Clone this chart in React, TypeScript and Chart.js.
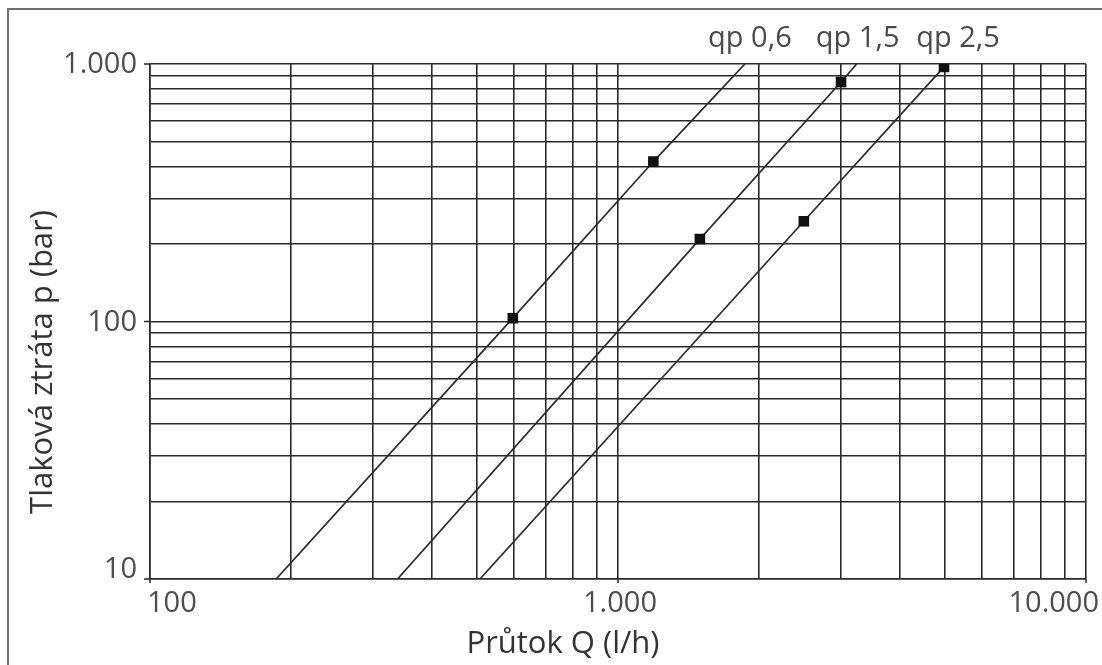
import React, { useEffect, useRef } from "react";
import { Chart, registerables } from "chart.js";

Chart.register(...registerables);

// Grid tick values (log-log)
const xTickValues = [100, 200, 300, 400, 500, 600, 700, 800, 900, 1000, 2000, 3000, 4000, 5000, 6000, 7000, 8000, 9000, 10000];
const yTickValues = [10, 20, 30, 40, 50, 60, 70, 80, 90, 100, 200, 300, 400, 500, 600, 700, 800, 900, 1000];
const xLabelValues = [100, 1000, 10000];
const xLabelTexts = ["100", "1.000", "10.000"];
const yLabelValues = [10, 100, 1000];
const yLabelTexts = ["10", "100", "1.000"];

// Series: flow Q (l/h) vs pressure loss p
const seriesNames = ["qp 0,6", "qp 1,5", "qp 2,5"];
const qp06Q = [186, 596, 1190, 1867];
const qp06P = [10, 103, 418, 1000];
const qp06Marker = [false, true, true, false];
const qp15Q = [338, 1496, 2996, 3236];
const qp15P = [10, 209, 851, 1000];
const qp15Marker = [false, true, true, false];
const qp25Q = [507, 2495, 4973];
const qp25P = [10, 245, 974];
const qp25Marker = [false, true, true];

const xTitle = "Průtok Q (l/h)";
const yTitle = "Tlaková ztráta p (bar)";

const FONT = "'Open Sans', 'DejaVu Sans', sans-serif";
const GRID = "#2a2a2a";

function makeDataset(q: number[], p: number[], marks: boolean[]) {
  return {
    data: q.map((v, i) => ({ x: v, y: p[i] })),
    showLine: true,
    borderColor: "#2a2a2a",
    borderWidth: 1.7,
    pointStyle: "rect",
    pointRadius: marks.map((m) => (m ? 7.5 : 0)),
    pointBackgroundColor: "#111",
    pointBorderColor: "#111",
    pointBorderWidth: 0,
  };
}

const overlayPlugin = {
  id: "overlay",
  afterDraw(chart: any) {
    const ctx = chart.ctx as CanvasRenderingContext2D;
    const xs = chart.scales.x;
    const ys = chart.scales.y;
    const area = chart.chartArea;
    ctx.save();

    // outer frame
    ctx.strokeStyle = "#707070";
    ctx.lineWidth = 2;
    ctx.beginPath();
    ctx.moveTo(8, chart.height);
    ctx.lineTo(8, 9);
    ctx.lineTo(chart.width, 9);
    ctx.stroke();

    // tick marks
    ctx.strokeStyle = GRID;
    ctx.lineWidth = 1.5;
    yLabelValues.forEach((v) => {
      const py = ys.getPixelForValue(v);
      ctx.beginPath();
      ctx.moveTo(area.left - 6, py);
      ctx.lineTo(area.left, py);
      ctx.stroke();
    });
    xLabelValues.forEach((v) => {
      const px = xs.getPixelForValue(v);
      ctx.beginPath();
      ctx.moveTo(px, area.bottom);
      ctx.lineTo(px, area.bottom + 4);
      ctx.stroke();
    });

    // tick labels
    ctx.fillStyle = "#4d4d4d";
    ctx.font = `29px ${FONT}`;
    ctx.textBaseline = "alphabetic";
    xLabelValues.forEach((v, i) => {
      const px = xs.getPixelForValue(v);
      let x = px;
      if (i === 0) {
        ctx.textAlign = "left";
        x = px - 3;
      } else if (i === xLabelValues.length - 1) {
        ctx.textAlign = "right";
        x = px + 13;
      } else {
        ctx.textAlign = "center";
        x = px + 2;
      }
      ctx.fillText(xLabelTexts[i], x, area.bottom + 33);
    });
    ctx.textAlign = "right";
    yLabelValues.forEach((v, i) => {
      const py = ys.getPixelForValue(v);
      const base = Math.min(py + 9, area.bottom - 1);
      ctx.fillText(yLabelTexts[i], area.left - 13, base);
    });

    // series labels at top
    const ends = [
      { q: qp06Q[qp06Q.length - 1], dx: 5 },
      { q: qp15Q[qp15Q.length - 1], dx: 1 },
      { q: qp25Q[qp25Q.length - 1], dx: 14 },
    ];
    ctx.textAlign = "center";
    ctx.font = `29px ${FONT}`;
    ctx.fillStyle = "#4a4a4a";
    ends.forEach((e, i) => {
      const px = xs.getPixelForValue(e.q) + e.dx;
      ctx.fillText(seriesNames[i], px, area.top - 17);
    });

    // axis titles
    ctx.fillStyle = "#333";
    ctx.font = `31px ${FONT}`;
    ctx.textAlign = "center";
    ctx.fillText(xTitle, (area.left + area.right) / 2 - 55, area.bottom + 74);
    ctx.save();
    ctx.translate(52, 362);
    ctx.rotate(-Math.PI / 2);
    ctx.font = `31px ${FONT}`;
    ctx.fillText(yTitle, 0, 0);
    ctx.restore();

    ctx.restore();
  },
};

export default function App() {
  const ref = useRef<HTMLCanvasElement | null>(null);
  useEffect(() => {
    if (!ref.current) return;
    const chart = new Chart(ref.current, {
      type: "scatter",
      data: {
        datasets: [
          makeDataset(qp06Q, qp06P, qp06Marker),
          makeDataset(qp15Q, qp15P, qp15Marker),
          makeDataset(qp25Q, qp25P, qp25Marker),
        ] as any,
      },
      options: {
        animation: false,
        responsive: true,
        maintainAspectRatio: false,
        layout: { padding: { left: 150, top: 64, right: 16, bottom: 86 } },
        plugins: { legend: { display: false }, tooltip: { enabled: false } },
        scales: {
          x: {
            type: "logarithmic",
            min: 100,
            max: 10000,
            afterBuildTicks: (s: any) => {
              s.ticks = xTickValues.map((v) => ({ value: v }));
            },
            ticks: { display: false },
            grid: { color: GRID, lineWidth: 1.6, drawTicks: false },
            border: { display: true, color: GRID, width: 1.6 },
          },
          y: {
            type: "logarithmic",
            min: 10,
            max: 1000,
            afterBuildTicks: (s: any) => {
              s.ticks = yTickValues.map((v) => ({ value: v }));
            },
            ticks: { display: false },
            grid: { color: GRID, lineWidth: 1.6, drawTicks: false },
            border: { display: true, color: GRID, width: 1.6 },
          },
        },
      } as any,
      plugins: [overlayPlugin],
    });
    return () => chart.destroy();
  }, []);
  return (
    <div style={{ position: "absolute", left: 0, top: 0, width: 1102, height: 665, background: "#fff" }}>
      <canvas ref={ref} />
    </div>
  );
}
